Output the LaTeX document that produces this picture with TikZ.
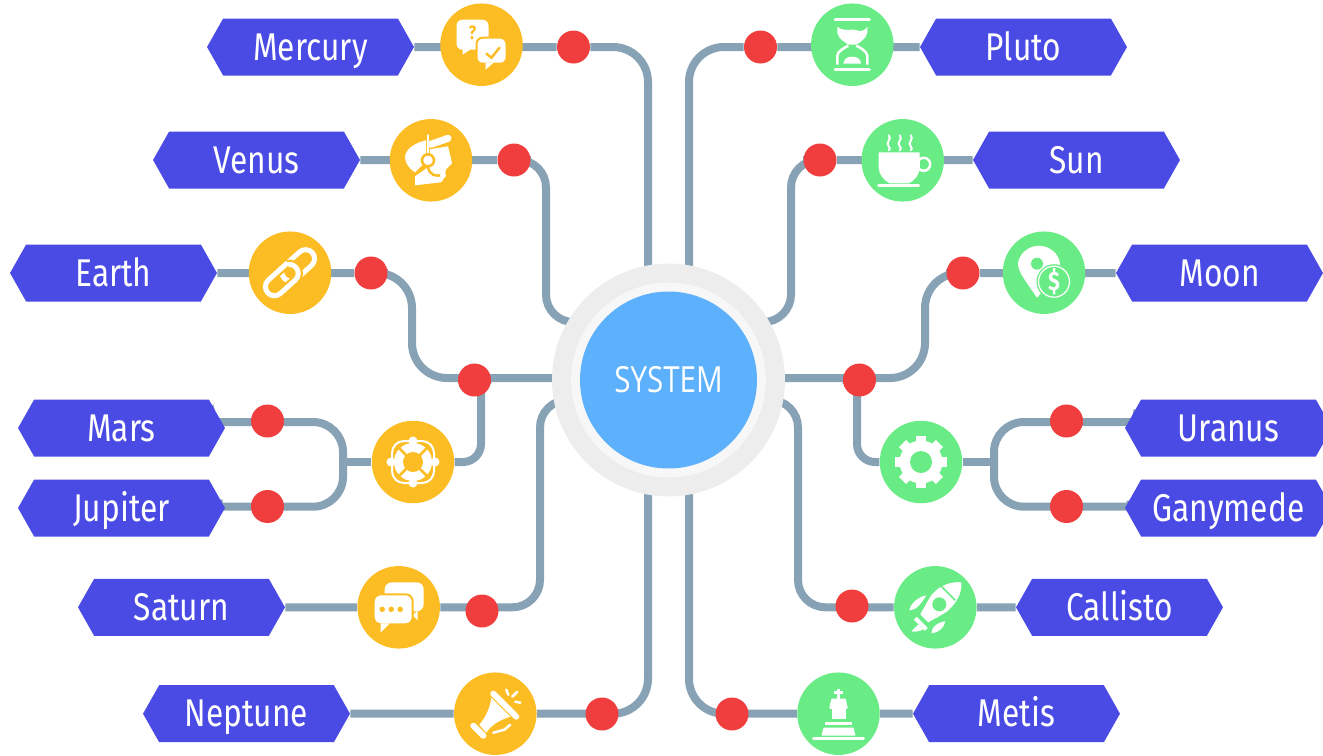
\documentclass[tikz,border=0pt]{standalone}
\usepackage{fontspec}
\usepackage{xcolor}
\usetikzlibrary{shapes.symbols,backgrounds}
\newfontfamily\labelfont[FakeStretch=0.82]{Fira Sans}
\newfontfamily\systemfont[FakeStretch=0.82]{Open Sans}
\definecolor{labelblue}{rgb}{0.29,0.29,0.90}
\definecolor{linkcolor}{rgb}{0.53,0.63,0.71}
\definecolor{dotred}{rgb}{0.94,0.24,0.24}
\definecolor{iconorange}{rgb}{0.99,0.74,0.14}
\definecolor{icongreen}{rgb}{0.41,0.92,0.52}
\definecolor{systemblue}{rgb}{0.36,0.69,0.99}
\definecolor{ringouter}{rgb}{0.93,0.93,0.93}
\definecolor{ringinner}{rgb}{0.97,0.97,0.97}
\tikzset{
	planetlabel/.style={signal,signal to=west and east,signal pointer angle=121,fill=labelblue,text=white,
		minimum width=4.14cm,minimum height=1.14cm,inner sep=0pt,text height=0.6cm,text depth=0.08cm,
		font=\labelfont\fontsize{22}{22}\selectfont},
	orangedisc/.style={circle,fill=iconorange,minimum size=1.65cm,inner sep=0pt},
	greendisc/.style={circle,fill=icongreen,minimum size=1.65cm,inner sep=0pt},
	reddot/.style={circle,fill=dotred,minimum size=0.66cm,inner sep=0pt},
	linkline/.style={draw=linkcolor,line width=0.16cm},
	inkline/.style={draw=white,line width=#1,line cap=round,line join=round},
}
% icons, drawn around the centre of a circle node
\newcommand{\iconchat}[1]{
	\begin{scope}[shift={(#1)}]
	\fill[white,rounded corners=0.12cm] (-25,-25) rectangle (7,5);
	\fill[white] (-19,4) -- (-19,10) -- (-10,4) -- cycle;
	\filldraw[fill=white,draw=iconorange,line width=0.04cm,rounded corners=0.12cm] (-5,-7) rectangle (25,19);
	\fill[white] (4,18) -- (4,25) -- (12,18) -- cycle;
	\node [text=iconorange,inner sep=0pt,font=\labelfont\bfseries\fontsize{11}{11}\selectfont] (chatmark) at (-9,-12) {?};
	\draw[iconorange,line width=0.05cm,line cap=round] (5,9) -- (10,13) -- (18,3);
	\end{scope}
}
\newcommand{\iconheadset}[1]{
	\begin{scope}[shift={(#1)}]
	\fill[white] (-5,-20) .. controls (-18,-17) and (-26,-10) .. (-26,-3) .. controls (-26,3) and (-21,9) .. (-16,12) -- (-5,1) -- cycle;
	\fill[white] (-1,-11) -- (17,-14) .. controls (19,-6) and (20,-2) .. (21,3) -- (15,9) .. controls (14,14) and (13,20) .. (10,22) -- (-16,25) -- (-16,16) -- (-3,7) -- cycle;
	\draw[iconorange,line width=0.04cm] (-3,-13) -- (20,-17);
	\draw[inkline=0.14cm] (0,-16) -- (17,-22);
	\draw[inkline=0.05cm] (-3,-25) -- (-3,-5);
	\filldraw[fill=white,draw=iconorange,line width=0.05cm] (-3,0) circle [radius=0.12cm];
	\draw[iconorange,line width=0.05cm] (-3,6) .. controls (-2,15) and (5,17) .. (12,14);
	\fill[white] (12,15) circle [radius=0.06cm];
	\end{scope}
}
\newcommand{\iconlink}[1]{
	\begin{scope}[shift={(#1)},rotate=42]
	\draw[white,line width=0.1cm,rounded corners=0.18cm] (-8,-9) rectangle (30,9);
	\draw[iconorange,line width=0.19cm,rounded corners=0.18cm] (-30,-9) rectangle (8,9);
	\draw[white,line width=0.1cm,rounded corners=0.18cm] (-30,-9) rectangle (8,9);
	\draw[iconorange,line width=0.19cm] (-3,-9) -- (3,-9);
	\draw[white,line width=0.1cm] (-5,-9) -- (5,-9);
	\end{scope}
}
\newcommand{\iconbuoy}[1]{
	\begin{scope}[shift={(#1)}]
	\draw[white,line width=0.04cm,rounded corners=0.24cm] (-21,-21) rectangle (21,21);
	\fill[white] (0,-21) circle [radius=0.09cm];
	\fill[white] (0,21) circle [radius=0.09cm];
	\fill[white] (-22,0) circle [radius=0.09cm];
	\fill[white] (22,0) circle [radius=0.09cm];
	\fill[white] (0,0) circle [radius=0.38cm];
	\draw[iconorange,line width=0.05cm] (-14,-14) -- (14,14);
	\draw[iconorange,line width=0.05cm] (-14,14) -- (14,-14);
	\fill[iconorange] (0,0) circle [radius=0.2cm];
	\end{scope}
}
\newcommand{\iconbubbles}[1]{
	\begin{scope}[shift={(#1)}]
	\fill[white,rounded corners=0.14cm] (-14,-25) rectangle (25,4);
	\fill[white] (19,3) -- (19,13) -- (14,8) -- cycle;
	\filldraw[fill=white,draw=iconorange,line width=0.04cm,rounded corners=0.14cm] (-25,-13) rectangle (14,17);
	\fill[white] (-18,16) -- (-18,25) -- (-9,16) -- cycle;
	\fill[iconorange] (-16.5,2) circle [radius=0.055cm];
	\fill[iconorange] (-7.5,2) circle [radius=0.055cm];
	\fill[iconorange] (1.5,2) circle [radius=0.055cm];
	\end{scope}
}
\newcommand{\iconhorn}[1]{
	\begin{scope}[shift={(#1)}]
	\fill[white] (-4,-16) -- (15,3) .. controls (5,6) and (-4,11) .. (-9,19) -- (-16,11) .. controls (-9,3) and (-5,-7) .. (-4,-16) -- cycle;
	\draw[inkline=0.12cm] (-2,-20) -- (21,3);
	\draw[inkline=0.12cm] (-22,12) -- (-12,22);
	\draw[inkline=0.05cm] (-2,19) -- (9,16) -- (15,11);
	\draw[inkline=0.05cm] (11,-24) -- (13,-19);
	\draw[inkline=0.05cm] (17,-17) -- (22,-22);
	\draw[inkline=0.05cm] (20,-12) -- (25,-11);
	\end{scope}
}
\newcommand{\iconglass}[1]{
	\begin{scope}[shift={(#1)}]
	\draw[inkline=0.07cm] (-17,-25) -- (17,-25);
	\draw[inkline=0.07cm] (-17,25) -- (17,25);
	\fill[white] (-15,-18) .. controls (-8,-12) and (0,-17) .. (6,-14) .. controls (10,-13) and (13,-15) .. (15,-18) -- (15,-12) .. controls (14,-6) and (7,-2) .. (4,0) -- (-4,0) .. controls (-8,-3) and (-14,-6) .. (-15,-12) -- cycle;
	\draw[white,line width=0.05cm] (-15,20) -- (-15,11) .. controls (-15,7) and (-8,3) .. (-4,1);
	\draw[white,line width=0.05cm] (15,20) -- (15,11) .. controls (15,7) and (8,3) .. (4,1);
	\fill[white] (-9,19) .. controls (-8,13) and (-4,12) .. (0,12) .. controls (4,12) and (8,13) .. (9,19) -- cycle;
	\end{scope}
}
\newcommand{\iconcup}[1]{
	\begin{scope}[shift={(#1)}]
	\fill[white] (-24,-8) -- (17,-8) -- (17,7) .. controls (17,15) and (11,21) .. (6,23) -- (-13,23) .. controls (-19,20) and (-24,14) .. (-24,7) -- cycle;
	\draw[white,line width=0.05cm] (21,4) circle [radius=0.13cm];
	\fill[white] (10,-2) rectangle (17,10);
	\draw[inkline=0.06cm] (-24,25.5) -- (16,25.5);
	\draw[white,line width=0.04cm,line cap=round] (-14,-25) .. controls (-10,-21) and (-18,-18) .. (-14,-14) .. controls (-12,-12) and (-13,-11) .. (-14,-10);
	\draw[white,line width=0.04cm,line cap=round] (-3,-25) .. controls (1,-21) and (-7,-18) .. (-3,-14) .. controls (-1,-12) and (-2,-11) .. (-3,-10);
	\draw[white,line width=0.04cm,line cap=round] (8,-25) .. controls (12,-21) and (4,-18) .. (8,-14) .. controls (10,-12) and (9,-11) .. (8,-10);
	\end{scope}
}
\newcommand{\iconpin}[1]{
	\begin{scope}[shift={(#1)}]
	\fill[white] (-7,25) .. controls (-14,14) and (-26,0) .. (-26,-8) .. controls (-26,-18) and (-16,-27) .. (-5,-27) .. controls (6,-27) and (16,-18) .. (16,-8) .. controls (16,4) and (2,14) .. (-7,25) -- cycle;
	\fill[icongreen] (-7,-9) circle [radius=0.12cm];
	\fill[icongreen] (10,9) circle [radius=0.35cm];
	\draw[white,line width=0.025cm] (10,9) circle [radius=0.31cm];
	\node [text=white,inner sep=0pt,font=\labelfont\bfseries\fontsize{15}{15}\selectfont] (pinmark) at (10,9) {\$};
	\end{scope}
}
\newcommand{\icongear}[1]{
	\begin{scope}[shift={(#1)}]
	\draw[white,line width=0.2cm] (-26,0) -- (26,0);
	\draw[white,line width=0.2cm] (0,-26) -- (0,26);
	\draw[white,line width=0.2cm] (-18.4,-18.4) -- (18.4,18.4);
	\draw[white,line width=0.2cm] (-18.4,18.4) -- (18.4,-18.4);
	\fill[white] (0,0) circle [radius=0.43cm];
	\fill[icongreen] (0,0) circle [radius=0.22cm];
	\end{scope}
}
\newcommand{\iconrocket}[1]{
	\begin{scope}[shift={(#1)}]
	\fill[white] (26,-25) .. controls (14,-26) and (3,-21) .. (-4,-12) .. controls (-8,-6) and (-12,2) .. (-15,7) -- (-7,15) .. controls (-2,12) and (6,8) .. (12,4) .. controls (21,-4) and (27,-14) .. (26,-25) -- cycle;
	\draw[icongreen,line width=0.035cm] (6,-21) -- (20,-7);
	\fill[icongreen] (4,-3) circle [radius=0.14cm];
	\draw[white,line width=0.08cm] (-20,11) -- (-9,22);
	\fill[white] (-17,17) -- (-24,24) .. controls (-22,25) and (-15,24) .. (-12,22) -- cycle;
	\fill[white] (-9,-12) .. controls (-16,-11) and (-25,-4) .. (-26,3) .. controls (-20,3) and (-15,-2) .. (-9,-12) -- cycle;
	\fill[white] (10,14) .. controls (9,21) and (2,26) .. (-4,26) .. controls (-4,20) and (2,15) .. (10,14) -- cycle;
	\end{scope}
}
\newcommand{\iconking}[1]{
	\begin{scope}[shift={(#1)}]
	\draw[white,line width=0.06cm] (0,-25) -- (0,-15);
	\draw[white,line width=0.06cm] (-4.5,-21) -- (4.5,-21);
	\fill[white] (-7,-15) -- (7,-15) -- (9,-7) -- (-9,-7) -- cycle;
	\draw[inkline=0.06cm] (-8,-6) -- (8,-6);
	\fill[white] (-7,-5) -- (7,-5) -- (7,5) -- (-7,5) -- cycle;
	\draw[white,line width=0.06cm] (-13.5,10) -- (13.5,10);
	\fill[white] (-15,14) -- (15,14) -- (17,22) -- (-17,22) -- cycle;
	\draw[inkline=0.06cm] (-25,25) -- (25,25);
	\end{scope}
}

\begin{document}
\begin{tikzpicture}[x=0.02cm,y=-0.02cm]

\useasboundingbox (0,0) rectangle (1323,755);
\clip (0,0) rectangle (1323,755);

% system in the middle
\node [circle,fill=ringouter,minimum size=4.66cm,inner sep=0pt] (systemring) at (668.5,380) {};
\node [circle,fill=ringinner,minimum size=3.9cm,inner sep=0pt] (systemgap) at (668.5,380) {};
\node [circle,fill=systemblue,minimum size=3.54cm,inner sep=0pt,text=white,font=\systemfont\fontsize{20.5}{20.5}\selectfont] (system) at (668.5,380) {SYSTEM};

% left side
\node [planetlabel] (mercury) at (310.5,47) {Mercury};
\node [planetlabel] (venus) at (256.5,160) {Venus};
\node [planetlabel] (earth) at (113.5,273) {Earth};
\node [planetlabel] (mars) at (121.5,428) {Mars};
\node [planetlabel] (jupiter) at (121.5,508) {Jupiter};
\node [planetlabel] (saturn) at (181.5,607.3) {Saturn};
\node [planetlabel] (neptune) at (246.5,713.7) {Neptune};
\node [orangedisc] (mercuryicon) at (481.5,44.7) {};
\node [orangedisc] (venusicon) at (431,160.3) {};
\node [orangedisc] (earthicon) at (290,272.7) {};
\node [orangedisc] (marsicon) at (413,462) {};
\node [orangedisc] (saturnicon) at (398.7,607.3) {};
\node [orangedisc] (neptuneicon) at (495.3,713.7) {};
\node [reddot] (mercurydot) at (573.5,47) {};
\node [reddot] (venusdot) at (514,160) {};
\node [reddot] (earthdot) at (371,273) {};
\node [reddot] (centerleft) at (474.5,380) {};
\node [reddot] (marsdot) at (267.5,421) {};
\node [reddot] (jupiterdot) at (267.5,506.5) {};
\node [reddot] (saturndot) at (482,611) {};
\node [reddot] (neptunedot) at (602,714) {};

% right side
\node [planetlabel] (pluto) at (1023.5,47) {Pluto};
\node [planetlabel] (sun) at (1076.5,160) {Sun};
\node [planetlabel] (moon) at (1219.5,273) {Moon};
\node [planetlabel] (uranus) at (1228.5,428) {Uranus};
\node [planetlabel] (ganymede) at (1228.5,508) {Ganymede};
\node [planetlabel] (callisto) at (1119.5,607.3) {Callisto};
\node [planetlabel] (metis) at (1016.5,713.7) {Metis};
\node [greendisc] (plutoicon) at (852.3,44.7) {};
\node [greendisc] (sunicon) at (902.7,160.3) {};
\node [greendisc] (moonicon) at (1044,272.7) {};
\node [greendisc] (gearicon) at (921,462) {};
\node [greendisc] (callistoicon) at (935.3,607.3) {};
\node [greendisc] (metisicon) at (838.5,713.7) {};
\node [reddot] (plutodot) at (760.5,47) {};
\node [reddot] (sundot) at (820,160) {};
\node [reddot] (moondot) at (963,273) {};
\node [reddot] (centerright) at (859.5,380) {};
\node [reddot] (uranusdot) at (1066.5,421) {};
\node [reddot] (ganymededot) at (1066.5,506.5) {};
\node [reddot] (callistodot) at (852,606) {};
\node [reddot] (metisdot) at (732,714) {};

% connectors behind everything
\begin{scope}[on background layer]
\draw[linkline,rounded corners=0.7cm] (mercury) -- (mercurydot) -- (648,47) -- (648,340) -- (system);
\draw[linkline,rounded corners=0.55cm] (venus) -- (venusdot) -- (546,160) -- (546,322) -- (610,322) -- (system);
\draw[linkline,rounded corners=0.7cm] (earth) -- (earthdot) -- (412,273) -- (412,378) -- (630,378) -- (system);
\draw[linkline,rounded corners=0.36cm] (marsicon) -- (481,462) -- (481,420) [sharp corners] -- (481,380) -- (centerleft);
\draw[linkline,rounded corners=0.6cm] (mars) -- (150,422) -- (343,422) -- (343,506.7) -- (150,506.7) -- (jupiter);
\draw[linkline] (marsicon) -- (343,462);
\draw[linkline,rounded corners=0.55cm] (saturn) -- (saturnicon) -- (540,607.3) -- (540,400) -- (610,400) -- (system);
\draw[linkline,rounded corners=0.7cm] (neptune) -- (neptuneicon) -- (648,713.7) -- (648,420) -- (system);
\draw[linkline,rounded corners=0.7cm] (pluto) -- (plutodot) -- (689,47) -- (689,340) -- (system);
\draw[linkline,rounded corners=0.55cm] (sun) -- (sundot) -- (791,160) -- (791,322) -- (725,322) -- (system);
\draw[linkline,rounded corners=0.7cm] (moon) -- (moondot) -- (925,273) -- (925,378) -- (710,378) -- (system);
\draw[linkline,rounded corners=0.36cm] (gearicon) -- (857,462) -- (857,420) [sharp corners] -- (857,380) -- (centerright);
\draw[linkline,rounded corners=0.6cm] (uranus) -- (1190,422) -- (994,422) -- (994,506.7) -- (1190,506.7) -- (ganymede);
\draw[linkline] (gearicon) -- (994,462);
\draw[linkline,rounded corners=0.55cm] (callisto) -- (callistoicon) -- (798,607.3) -- (798,400) -- (725,400) -- (system);
\draw[linkline,rounded corners=0.7cm] (metis) -- (metisicon) -- (689,713.7) -- (689,420) -- (system);
\end{scope}

% icons
\iconchat{mercuryicon}
\iconheadset{venusicon}
\iconlink{earthicon}
\iconbuoy{marsicon}
\iconbubbles{saturnicon}
\iconhorn{neptuneicon}
\iconglass{plutoicon}
\iconcup{sunicon}
\iconpin{moonicon}
\icongear{gearicon}
\iconrocket{callistoicon}
\iconking{metisicon}

\end{tikzpicture}
\end{document}
